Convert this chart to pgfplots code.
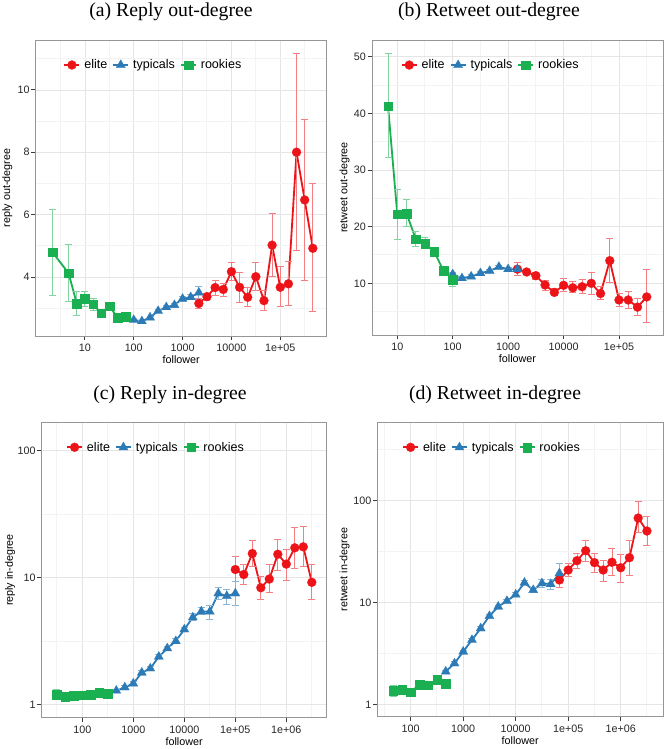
\documentclass[border=0pt]{standalone}
\usepackage{pgfplots}
\pgfplotsset{compat=1.18}
\usepackage{pgfplotstable}
\usepackage{fontspec}
\setmainfont{Liberation Serif}
\newfontfamily\hv{Liberation Sans}

\definecolor{cred}{RGB}{236,20,24}
\definecolor{cblue}{RGB}{44,123,182}
\definecolor{cgreen}{RGB}{26,175,80}
\definecolor{cborder}{RGB}{150,150,150}
\definecolor{ctick}{RGB}{60,60,60}
\definecolor{ctext}{RGB}{40,40,40}
\definecolor{cgmaj}{RGB}{229,229,229}
\definecolor{cgmin}{RGB}{243,243,243}

% ---------- (a) reply out-degree ----------
\pgfplotstableread{
x y lo hi
2.154 4.80 3.42 6.18
4.642 4.12 3.21 5.06
6.813 3.15 2.78 3.53
10 3.30 3.05 3.55
14.68 3.13 2.94 3.31
21.54 2.84 2.73 2.96
31.62 3.07 2.96 3.18
46.42 2.70 2.66 2.74
68.13 2.73 2.69 2.77
}\aRook
\pgfplotstableread{
x y lo hi
100 2.62 2.58 2.66
146.8 2.58 2.55 2.62
215.4 2.70 2.66 2.74
316.2 2.91 2.86 2.96
464.2 3.03 2.98 3.08
681.3 3.10 3.04 3.16
1000 3.30 3.23 3.37
1468 3.35 3.27 3.43
2154 3.50 3.28 3.71
}\aTyp
\pgfplotstableread{
x y lo hi
2154 3.15 2.99 3.31
3162 3.37 3.26 3.48
4642 3.66 3.42 3.88
6813 3.60 3.37 3.80
10000 4.17 3.90 4.46
14678 3.67 3.19 4.15
21544 3.35 3.07 3.66
31623 4.01 3.56 4.46
46416 3.24 2.94 3.58
68129 5.02 4.01 6.04
100000 3.67 3.05 4.33
146780 3.78 3.09 4.51
215443 8.00 4.86 11.16
316228 6.47 3.90 9.05
464159 4.92 2.88 6.99
}\aElite

% ---------- (b) retweet out-degree ----------
\pgfplotstableread{
x y lo hi
6.813 41.3 32.2 50.5
10 22.2 17.8 26.6
14.68 22.35 20.0 24.8
21.54 17.8 16.5 19.2
31.62 17.06 16.1 18.1
46.42 15.6 15.1 16.1
68.13 12.2 11.8 12.6
100 10.7 9.5 11.8
}\bRook
\pgfplotstableread{
x y lo hi
100 11.6 11.2 12.0
146.8 10.9 10.6 11.2
215.4 11.2 10.9 11.5
316.2 11.8 11.5 12.1
464.2 12.2 11.9 12.5
681.3 12.9 12.6 13.2
1000 12.5 12.2 12.8
1468 12.5 12.1 12.9
}\bTyp
\pgfplotstableread{
x y lo hi
1468 12.5 11.4 13.7
2154 12.0 11.6 12.4
3162 11.35 10.7 11.9
4642 9.7 8.8 10.6
6813 8.4 7.8 9.1
10000 9.65 8.5 10.8
14678 9.2 8.4 10.3
21544 9.4 8.2 10.7
31623 10.0 8.1 11.9
46416 8.2 7.1 9.5
68129 14.0 10.2 17.9
100000 7.06 5.9 8.2
146780 7.06 5.5 8.6
215443 5.8 4.3 7.4
316228 7.6 3.06 12.5
}\bElite

% ---------- (c) reply in-degree ----------
\pgfplotstableread{
x y lo hi
31.62 1.206 1.10 1.32
46.42 1.163 1.10 1.23
68.13 1.18 1.13 1.23
100 1.19 1.14 1.24
146.8 1.20 1.15 1.25
215.4 1.25 1.20 1.30
316.2 1.23 1.18 1.28
}\cRook
\pgfplotstableread{
x y lo hi
464.2 1.29 1.26 1.32
681.3 1.37 1.33 1.41
1000 1.47 1.42 1.52
1468 1.79 1.73 1.85
2154 1.93 1.86 2.00
3162 2.39 2.31 2.47
4642 2.78 2.68 2.88
6813 3.17 3.05 3.30
10000 3.92 3.75 4.10
14678 4.87 4.6 5.2
21544 5.43 5.1 5.8
31623 5.40 4.7 6.1
46416 7.53 6.7 8.4
68129 7.17 6.2 8.1
100000 7.53 6.1 9.3
}\cTyp
\pgfplotstableread{
x y lo hi
100000 11.6 9.3 14.6
146780 10.6 8.9 12.8
215443 15.5 12.2 19.8
316228 8.34 6.75 10.2
464159 9.76 7.62 12.7
681292 15.3 11.5 20.2
1000000 12.8 9.6 16.7
1467799 17.2 11.8 25.0
2154435 17.5 12.2 25.2
3162278 9.2 6.7 12.8
}\cElite

% ---------- (d) retweet in-degree ----------
\pgfplotstableread{
x y lo hi
46.42 1.37 1.20 1.56
68.13 1.40 1.33 1.47
100 1.33 1.28 1.38
146.8 1.58 1.52 1.64
215.4 1.56 1.50 1.62
316.2 1.77 1.70 1.84
464.2 1.61 1.43 1.77
}\dRook
\pgfplotstableread{
x y lo hi
464.2 2.11 2.05 2.17
681.3 2.54 2.45 2.63
1000 3.31 3.2 3.42
1468 4.31 4.15 4.47
2154 5.6 5.4 5.8
3162 7.4 7.1 7.7
4642 9.14 8.8 9.5
6813 10.4 10.0 10.8
10000 12.0 11.5 12.5
14678 15.7 15.0 16.4
21544 13.3 12.5 14.1
31623 15.5 14.0 17.0
46416 15.2 13.6 16.8
68129 19.4 16.0 24.0
}\dTyp
\pgfplotstableread{
x y lo hi
68129 16.7 14.0 19.4
100000 20.9 18.0 24.3
146780 25.8 21.8 30.6
215443 32.3 25.3 40.5
316228 24.7 19.7 30.6
464159 20.9 16.3 26.2
681292 24.9 18.4 34.0
1000000 22.0 15.9 30.0
1467799 27.6 18.5 41.0
2154435 67.6 48.6 97.7
3162278 50.4 36.6 69.7
}\dElite

\pgfplotsset{
  gg/.style={
    scale only axis, anchor=south west,
    axis line style={draw=cborder, line width=0.9bp},
    xtick pos=bottom, ytick pos=left,
    tick align=outside, major tick length=4.5bp, minor tick length=0pt,
    tick style={draw=ctick, line width=0.9bp},
    grid=both,
    major grid style={draw=cgmaj, line width=0.6bp},
    minor grid style={draw=cgmin, line width=1bp},
    tick label style={font=\hv\fontsize{10.8}{12}\selectfont, text=ctext, inner sep=0pt},
    xticklabel style={anchor=north, yshift=-3.5bp},
    yticklabel style={anchor=east, xshift=-1.5bp},
    label style={font=\hv\fontsize{10.8}{12}\selectfont},
    xlabel={follower},
    xlabel style={at={([yshift=-24bp]axis description cs:0.5,0)}, anchor=center},
    legend columns=3,
    legend style={draw=none, fill=none, inner sep=0pt, anchor=west,
      font=\hv\fontsize{12.6}{14}\selectfont, nodes={inner sep=0pt},
      /tikz/every odd column/.append style={column sep=4bp},
      /tikz/every even column/.append style={column sep=5bp}},
    legend image code/.code={\draw[mark repeat=2, mark phase=2, ##1] plot coordinates {(0bp,0bp) (7.5bp,0bp) (15bp,0bp)};},
  },
  pelite/.style={color=cred, line width=1.8bp, mark=*, mark size=4.5bp,
    mark options={solid, draw=cred, fill=cred, line width=0.2bp},
    error bars/y dir=both, error bars/y explicit,
    error bars/error bar style={draw=cred!55, line width=0.8bp},
    error bars/error mark options={rotate=90, mark size=3.5bp, draw=cred!55, line width=0.8bp}},
  ptyp/.style={color=cblue, line width=1.8bp, mark=triangle*, mark size=5.3bp,
    mark options={solid, draw=cblue, fill=cblue, line width=0.2bp},
    error bars/y dir=both, error bars/y explicit,
    error bars/error bar style={draw=cblue!55, line width=0.8bp},
    error bars/error mark options={rotate=90, mark size=3.5bp, draw=cblue!55, line width=0.8bp}},
  prook/.style={color=cgreen, line width=1.8bp, mark=square*, mark size=4.3bp,
    mark options={solid, draw=cgreen, fill=cgreen, line width=0.2bp},
    error bars/y dir=both, error bars/y explicit,
    error bars/error bar style={draw=cgreen!55, line width=0.8bp},
    error bars/error mark options={rotate=90, mark size=3.5bp, draw=cgreen!55, line width=0.8bp}},
}

\begin{document}
\begin{tikzpicture}
\useasboundingbox (0,0) rectangle (667bp,749bp);
\fill[white] (0,0) rectangle (667bp,749bp);

\node[anchor=base, font=\fontsize{19.8}{22}\selectfont] at (171bp,732bp) {(a) Reply out-degree};
\node[anchor=base, font=\fontsize{19.8}{22}\selectfont] at (489bp,732bp) {(b) Retweet out-degree};
\node[anchor=base, font=\fontsize{19.8}{22}\selectfont] at (170bp,349bp) {(c) Reply in-degree};
\node[anchor=base, font=\fontsize{19.8}{22}\selectfont] at (495bp,349bp) {(d) Retweet in-degree};

% (a)
\begin{axis}[gg, at={(35.7bp,413bp)}, width=291bp, height=296bp,
  xmode=log, xmin=0.984, xmax=893000, ymin=2.107, ymax=11.6,
  xtick={10,100,1000,10000,100000}, xticklabels={10,100,1000,10000,1e+05},
  minor xtick={3.1623,31.623,316.23,3162.3,31623,316228},
  ytick={4,6,8,10}, yticklabels={4,6,8,10}, minor ytick={3,5,7,9,11},
  ylabel={reply out-degree},
  ylabel style={at={([xshift=-28.4bp]axis description cs:0,0.5)}, anchor=center},
  legend style={at={(axis description cs:0.095,0.9155)}}]
\addplot[pelite] table[x=x, y=y, y error plus expr=\thisrow{hi}-\thisrow{y}, y error minus expr=\thisrow{y}-\thisrow{lo}] {\aElite}; \addlegendentry{elite}
\addplot[ptyp] table[x=x, y=y, y error plus expr=\thisrow{hi}-\thisrow{y}, y error minus expr=\thisrow{y}-\thisrow{lo}] {\aTyp}; \addlegendentry{typicals}
\addplot[prook] table[x=x, y=y, y error plus expr=\thisrow{hi}-\thisrow{y}, y error minus expr=\thisrow{y}-\thisrow{lo}] {\aRook}; \addlegendentry{rookies}
\end{axis}

% (b)
\begin{axis}[gg, at={(372bp,414bp)}, width=291bp, height=295bp,
  xmode=log, xmin=3.50, xmax=622000, ymin=0.88, ymax=52.95,
  xtick={10,100,1000,10000,100000}, xticklabels={10,100,1000,10000,1e+05},
  minor xtick={31.623,316.23,3162.3,31623,316228},
  ytick={10,20,30,40,50}, yticklabels={10,20,30,40,50}, minor ytick={5,15,25,35,45},
  ylabel={retweet out-degree},
  ylabel style={at={([xshift=-27.3bp]axis description cs:0,0.5)}, anchor=center},
  legend style={at={(axis description cs:0.0986,0.915)}}]
\addplot[pelite] table[x=x, y=y, y error plus expr=\thisrow{hi}-\thisrow{y}, y error minus expr=\thisrow{y}-\thisrow{lo}] {\bElite}; \addlegendentry{elite}
\addplot[ptyp] table[x=x, y=y, y error plus expr=\thisrow{hi}-\thisrow{y}, y error minus expr=\thisrow{y}-\thisrow{lo}] {\bTyp}; \addlegendentry{typicals}
\addplot[prook] table[x=x, y=y, y error plus expr=\thisrow{hi}-\thisrow{y}, y error minus expr=\thisrow{y}-\thisrow{lo}] {\bRook}; \addlegendentry{rookies}
\end{axis}

% (c)
\begin{axis}[gg, at={(41.7bp,31.3bp)}, width=284.8bp, height=295.2bp,
  xmode=log, ymode=log, xmin=16.0, xmax=6140000, ymin=0.791, ymax=166.7,
  xtick={100,1000,10000,100000,1000000}, xticklabels={100,1000,10000,1e+05,1e+06},
  minor xtick={31.623,316.23,3162.3,31623,316228,3162278},
  ytick={1,10,100}, yticklabels={1,10,100}, minor ytick={3.1623,31.623},
  ylabel={reply in-degree},
  ylabel style={at={([xshift=-31.7bp]axis description cs:0,0.5)}, anchor=center},
  legend style={at={(axis description cs:0.0853,0.916)}}]
\addplot[pelite] table[x=x, y=y, y error plus expr=\thisrow{hi}-\thisrow{y}, y error minus expr=\thisrow{y}-\thisrow{lo}] {\cElite}; \addlegendentry{elite}
\addplot[ptyp] table[x=x, y=y, y error plus expr=\thisrow{hi}-\thisrow{y}, y error minus expr=\thisrow{y}-\thisrow{lo}] {\cTyp}; \addlegendentry{typicals}
\addplot[prook] table[x=x, y=y, y error plus expr=\thisrow{hi}-\thisrow{y}, y error minus expr=\thisrow{y}-\thisrow{lo}] {\cRook}; \addlegendentry{rookies}
\end{axis}

% (d)
\begin{axis}[gg, at={(377.5bp,32.3bp)}, width=285.5bp, height=294.4bp,
  xmode=log, ymode=log, xmin=23.3, xmax=6400000, ymin=0.762, ymax=587,
  xtick={100,1000,10000,100000,1000000}, xticklabels={100,1000,10000,1e+05,1e+06},
  minor xtick={31.623,316.23,3162.3,31623,316228,3162278},
  ytick={1,10,100}, yticklabels={1,10,100}, minor ytick={3.1623,31.623,316.23},
  ylabel={retweet in-degree},
  ylabel style={at={([xshift=-32.8bp]axis description cs:0,0.5)}, anchor=center},
  legend style={at={(axis description cs:0.0858,0.915)}}]
\addplot[pelite] table[x=x, y=y, y error plus expr=\thisrow{hi}-\thisrow{y}, y error minus expr=\thisrow{y}-\thisrow{lo}] {\dElite}; \addlegendentry{elite}
\addplot[ptyp] table[x=x, y=y, y error plus expr=\thisrow{hi}-\thisrow{y}, y error minus expr=\thisrow{y}-\thisrow{lo}] {\dTyp}; \addlegendentry{typicals}
\addplot[prook] table[x=x, y=y, y error plus expr=\thisrow{hi}-\thisrow{y}, y error minus expr=\thisrow{y}-\thisrow{lo}] {\dRook}; \addlegendentry{rookies}
\end{axis}
\end{tikzpicture}
\end{document}
